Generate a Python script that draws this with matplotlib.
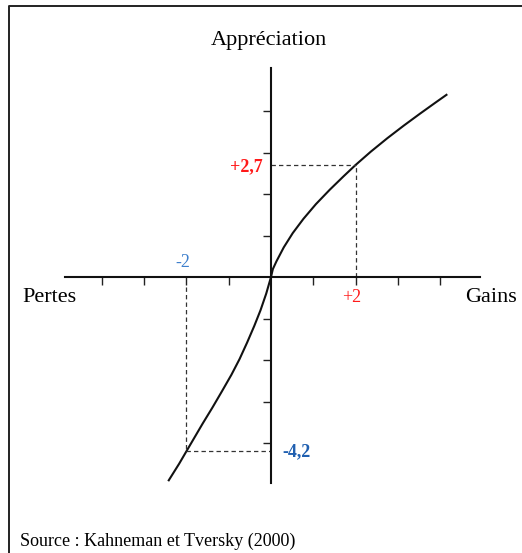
import matplotlib
matplotlib.use("Agg")
import matplotlib.pyplot as plt
from matplotlib.lines import Line2D

# ---- data (value function) ----
gain_x = [0.0, 0.044, 0.129, 0.302, 0.514, 0.767, 1.061, 1.391, 1.717, 2.0,
          2.359, 2.752, 3.136, 3.516, 3.890, 4.168]
gain_y = [0.0, 0.191, 0.378, 0.715, 1.058, 1.402, 1.755, 2.105, 2.428, 2.7,
          3.020, 3.346, 3.646, 3.931, 4.204, 4.404]
loss_x = [0.0, -0.113, -0.248, -0.395, -0.564, -0.744, -0.936, -1.161,
          -1.387, -1.617, -1.820, -2.0, -2.171, -2.43]
loss_y = [0.0, -0.400, -0.801, -1.178, -1.578, -1.979, -2.356, -2.756,
          -3.150, -3.534, -3.887, -4.2, -4.499, -4.92]

key_gain = (2, 2.7)
key_loss = (-2, -4.2)
x_ticks = [-4, -3, -2, -1, 1, 2, 3, 4]
y_ticks = [-4, -3, -2, -1, 1, 2, 3, 4]

title = "Appréciation"
left_label = "Pertes"
right_label = "Gains"
source = "Source : Kahneman et Tversky (2000)"

RED = "#ff1a1a"
BLUE_L = "#3d7fcc"
BLUE_D = "#1f5fb0"

plt.rcParams['font.family'] = ['Liberation Serif', 'DejaVu Serif']

W, H, DPI = 522, 553, 100
fig = plt.figure(figsize=(W / DPI, H / DPI), dpi=DPI)
ax = fig.add_axes([0, 0, 1, 1])
ax.set_facecolor('none')

# pixel geometry -> data limits
ox, oy, sx, sy = 271, 277, 42.3, 41.5
ax.set_xlim(-ox / sx, (W - ox) / sx)
ax.set_ylim(-(H - oy) / sy, oy / sy)

for s in ['top', 'right']:
    ax.spines[s].set_visible(False)
ax.spines['left'].set_position(('data', 0))
ax.spines['bottom'].set_position(('data', 0))
ax.spines['left'].set_bounds(-4.96, 5.04)
ax.spines['bottom'].set_bounds(-4.87, 4.94)
for s in ['left', 'bottom']:
    ax.spines[s].set_linewidth(1.5)
    ax.spines[s].set_color('#111111')

ax.set_xticks(x_ticks)
ax.set_yticks(y_ticks)
ax.set_xticklabels([])
ax.set_yticklabels([])
ax.tick_params(direction='out', length=5.8, width=1.0, color='#222222')

# curve
ax.plot(loss_x[::-1] + gain_x[1:], loss_y[::-1] + gain_y[1:],
        color='#111111', lw=1.5, solid_capstyle='butt', solid_joinstyle='round')

# dashed guides
dkw = dict(color='#333333', lw=0.9, ls=(0, (3.5, 2.5)))
ax.plot([key_gain[0], key_gain[0]], [0, key_gain[1]], **dkw)
ax.plot([0, key_gain[0]], [key_gain[1], key_gain[1]], **dkw)
ax.plot([key_loss[0], key_loss[0]], [-0.25, key_loss[1]], **dkw)
ax.plot([key_loss[0], 0], [key_loss[1], key_loss[1]], **dkw)

# value labels
ax.text(key_loss[0] - 0.08, 0.36, "-2", color=BLUE_L, fontsize=13,
        ha='center', va='center')
ax.text(key_gain[0] - 0.1, -0.5, "+2", color=RED, fontsize=13,
        ha='center', va='center')
ax.text(-0.19, key_gain[1] - 0.05, "+2,7", color=RED, fontsize=13,
        fontweight='bold', ha='right', va='center')
ax.text(0.28, key_loss[1], "-4,2", color=BLUE_D, fontsize=13,
        fontweight='bold', ha='left', va='center')

# axis titles
fig.text(269 / W, 1 - 40 / H, title, fontsize=16, ha='center', va='center')
fig.text(22 / W, 1 - 297 / H, left_label, fontsize=16, ha='left', va='center')
fig.text(517 / W, 1 - 297 / H, right_label, fontsize=16, ha='right', va='center')
fig.text(20 / W, 1 - 541 / H, source, fontsize=13, ha='left', va='center')

# partial frame (top + left)
fig.add_artist(Line2D([9 / W, 9 / W, 1.0], [0.0, 1 - 6 / H, 1 - 6 / H],
                      transform=fig.transFigure, color='#222222', lw=1.4))

fig.savefig("out.png", dpi=DPI)
